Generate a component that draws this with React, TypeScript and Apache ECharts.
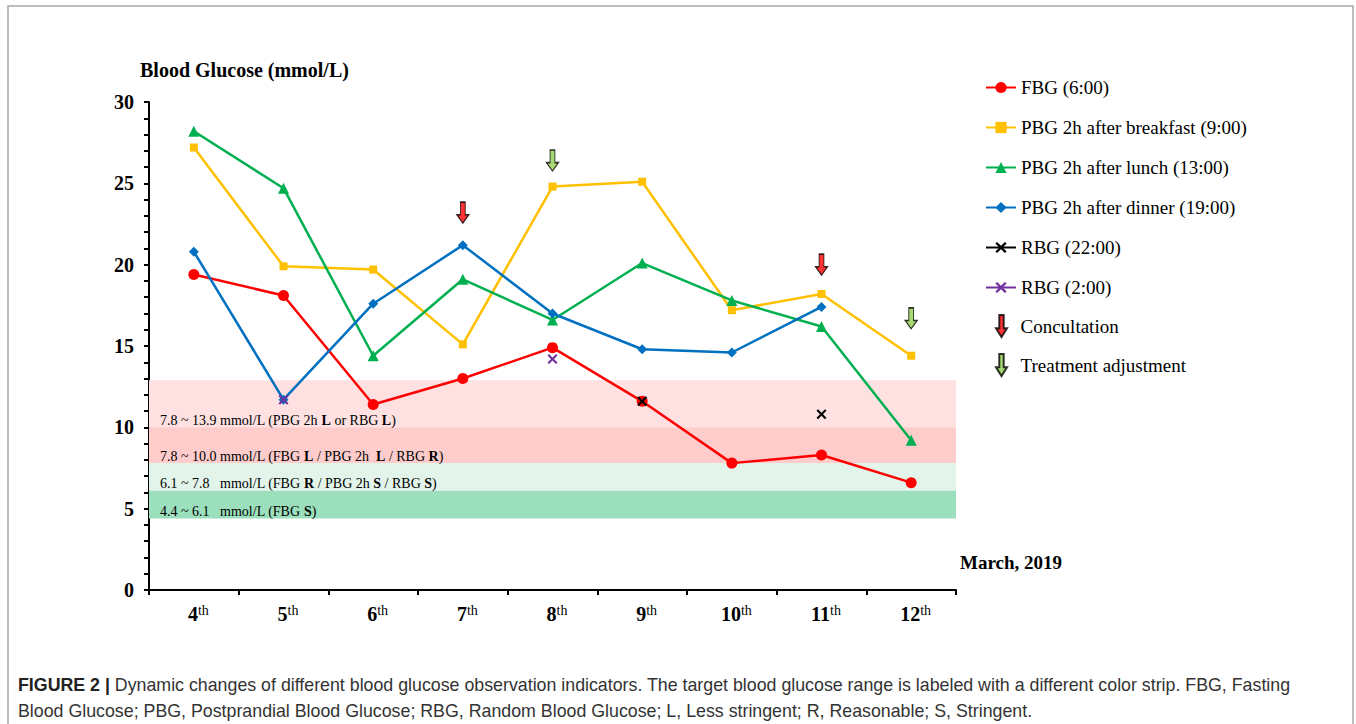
import React, { useEffect, useRef } from "react";
import * as echarts from "echarts";

const days = ["4", "5", "6", "7", "8", "9", "10", "11", "12"];
const fbg = [19.4, 18.1, 11.4, 13.0, 14.9, 11.6, 7.8, 8.3, 6.6];
const pbgBreakfast = [27.2, 19.9, 19.7, 15.1, 24.8, 25.1, 17.2, 18.2, 14.4];
const pbgLunch = [28.2, 24.7, 14.4, 19.1, 16.6, 20.1, 17.8, 16.2, 9.2];
const pbgDinner = [20.8, 11.7, 17.6, 21.2, 17.0, 14.8, 14.6, 17.4, null];
const rbg22 = [null, null, null, null, null, 11.6, null, 10.8, null];
const rbg2 = [null, 11.7, null, null, 14.2, null, null, null, null];
const consultDays = ["7", "11"];
const consultVals = [23.2, 20.0];
const adjustDays = ["8", "12"];
const adjustVals = [26.4, 16.7];

const bandRanges = [
  [10.0, 12.9],
  [7.8, 10.0],
  [6.1, 7.8],
  [4.4, 6.1],
];
const bandColors = ["#FFE1E2", "#FFCCCC", "#E3F5EB", "#9BDFBC"];
const bandLabels = [
  "7.8 ~ 13.9 mmol/L (PBG 2h {b|L} or RBG {b|L})",
  "7.8 ~ 10.0 mmol/L (FBG {b|L} / PBG 2h  {b|L} / RBG {b|R})",
  "6.1 ~ 7.8   mmol/L (FBG {b|R} / PBG 2h {b|S} / RBG {b|S})",
  "4.4 ~ 6.1   mmol/L (FBG {b|S})",
];

const lineNames = [
  "FBG (6:00)",
  "PBG 2h after breakfast (9:00)",
  "PBG 2h after lunch (13:00)",
  "PBG 2h after dinner (19:00)",
  "RBG (22:00)",
  "RBG (2:00)",
];
const arrowNames = ["Concultation", "Treatment adjustment"];

const caption =
  "{b|FIGURE 2 |} Dynamic changes of different blood glucose observation indicators. The target blood glucose range is labeled with a different color strip. FBG, Fasting\nBlood Glucose; PBG, Postprandial Blood Glucose; RBG, Random Blood Glucose; L, Less stringent; R, Reasonable; S, Stringent.";

const SERIF = "'Liberation Serif', 'Times New Roman', serif";
const SANS = "'Liberation Sans', Arial, sans-serif";
const X_PATH =
  "path://M0,1.5L1.5,0L5,3.5L8.5,0L10,1.5L6.5,5L10,8.5L8.5,10L5,6.5L1.5,10L0,8.5L3.5,5Z";
const ARROW_PATH = "path://M3,0L7,0L7,12L10,12L5,20L0,12L3,12Z";

export default function App() {
  const ref = useRef<HTMLDivElement>(null);
  useEffect(() => {
    if (!ref.current) return;
    const chart = echarts.init(ref.current, null, { renderer: "svg" });
    const lineBase = (name: string, data: any[], color: string, symbol: string, size: number) => ({
      name,
      type: "line",
      data,
      z: 3,
      symbol,
      symbolSize: size,
      showAllSymbol: true,
      lineStyle: { color, width: 2.5 },
      itemStyle: { color },
    });
    const legendText = { fontFamily: SERIF, fontSize: 19, color: "#000" };
    chart.setOption({
      animation: false,
      backgroundColor: "#fff",
      grid: { left: 149, right: 400, top: 102, bottom: 134 },
      legend: [
        {
          orient: "vertical",
          left: 985,
          top: 78,
          padding: 0,
          itemGap: 21,
          itemWidth: 30,
          itemHeight: 14,
          data: lineNames,
          textStyle: legendText,
        },
        {
          orient: "vertical",
          left: 995,
          top: 314,
          padding: 0,
          itemGap: 15,
          itemWidth: 12,
          itemHeight: 22,
          data: arrowNames,
          textStyle: { ...legendText, padding: [0, 0, 0, 8] },
        },
      ],
      xAxis: {
        type: "category",
        data: days,
        boundaryGap: true,
        axisLine: { lineStyle: { color: "#000", width: 2 } },
        axisTick: { show: true, length: 5, lineStyle: { color: "#000", width: 2 } },
        axisLabel: {
          margin: 13,
          padding: [0, 0, 0, 9],
          formatter: (v: string) => `{n|${v}}{s|th}`,
          rich: {
            n: { fontFamily: SERIF, fontSize: 20, fontWeight: "bold", color: "#000" },
            s: { fontFamily: SERIF, fontSize: 14, color: "#000", padding: [0, 0, 8, 0] },
          },
        },
      },
      yAxis: {
        type: "value",
        min: 0,
        max: 30,
        interval: 5,
        splitLine: { show: false },
        axisLine: { show: true, lineStyle: { color: "#000", width: 2 } },
        axisTick: { show: true, length: 5, lineStyle: { color: "#000", width: 2 } },
        minorTick: { show: true, splitNumber: 5, length: 5, lineStyle: { color: "#000", width: 2 } },
        axisLabel: {
          margin: 15,
          fontFamily: SERIF,
          fontSize: 20,
          fontWeight: "bold",
          color: "#000",
        },
      },
      graphic: [
        {
          type: "rect",
          shape: { x: 8, y: 6, width: 1345, height: 740 },
          style: { fill: "none", stroke: "#a8a8a8", lineWidth: 1.5 },
          silent: true,
        },
        {
          type: "text",
          left: 140,
          top: 60,
          style: {
            text: "Blood Glucose (mmol/L)",
            font: `bold 20px ${SERIF}`,
            fill: "#000",
          },
        },
        {
          type: "text",
          left: 960,
          top: 553,
          style: {
            text: "March, 2019",
            font: `bold 19px ${SERIF}`,
            fill: "#000",
          },
        },
        {
          type: "text",
          left: 18,
          top: 672,
          style: {
            text: caption,
            font: `17.8px ${SANS}`,
            fill: "#333",
            lineHeight: 26,
            rich: { b: { fontWeight: "bold", fontFamily: SANS, fontSize: 17.8, fill: "#222" } },
          },
        },
      ],
      series: [
        {
          name: "bands",
          type: "line",
          data: days.map(() => null),
          z: 1,
          silent: true,
          markArea: {
            silent: true,
            data: bandRanges.map((r, i) => [
              {
                yAxis: r[0],
                itemStyle: { color: bandColors[i] },
                label: {
                  show: true,
                  position: [11, "100%"],
                  verticalAlign: "bottom",
                  offset: [0, 0],
                  formatter: bandLabels[i],
                  fontFamily: SERIF,
                  fontSize: 14,
                  color: "#000",
                  rich: { b: { fontFamily: SERIF, fontSize: 14, fontWeight: "bold", color: "#000" } },
                },
              },
              { yAxis: r[1] },
            ]),
          },
        },
        lineBase(lineNames[0], fbg, "#FF0000", "circle", 11),
        lineBase(lineNames[1], pbgBreakfast, "#FFC000", "rect", 8),
        lineBase(lineNames[2], pbgLunch, "#00B050", "triangle", 11),
        lineBase(lineNames[3], pbgDinner, "#0070C0", "diamond", 10),
        lineBase(lineNames[4], rbg22, "#000000", X_PATH, 10),
        lineBase(lineNames[5], rbg2, "#7030A0", X_PATH, 10),
        {
          name: arrowNames[0],
          type: "scatter",
          z: 4,
          symbol: ARROW_PATH,
          symbolSize: [12, 21],
          itemStyle: { color: "#FF0000", borderColor: "#000", borderWidth: 1.2 },
          data: consultDays.map((d, i) => [d, consultVals[i]]),
        },
        {
          name: arrowNames[1],
          type: "scatter",
          z: 4,
          symbol: ARROW_PATH,
          symbolSize: [12, 21],
          itemStyle: { color: "#92D050", borderColor: "#000", borderWidth: 1.2 },
          data: adjustDays.map((d, i) => [d, adjustVals[i]]),
        },
      ],
    });
    return () => chart.dispose();
  }, []);
  return (
    <div
      ref={ref}
      style={{ position: "absolute", left: 0, top: 0, width: 1356, height: 724 }}
    />
  );
}
